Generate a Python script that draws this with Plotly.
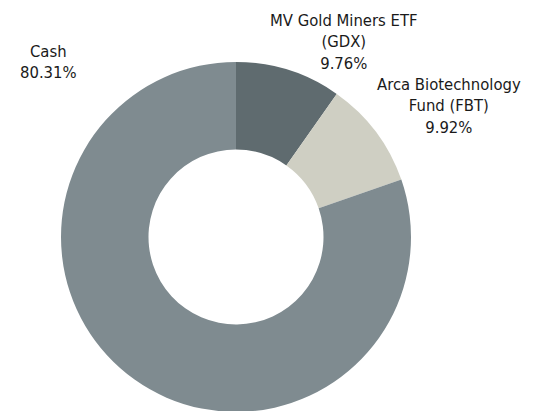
import plotly.graph_objects as go

labels = ["MV Gold Miners ETF<br>(GDX)", "Arca Biotechnology<br>Fund (FBT)", "Cash"]
values = [9.76, 9.92, 80.31]
colors = ["#5f6b6f", "#cfcfc3", "#7f8b90"]

# label anchor positions in pixels (x center, y center) on screen
label_pos = [(344, 42), (449, 106), (48, 62)]
OFF = 8  # default page body margin

W, H = 541, 411
# pie box on screen: x 61..411, y 62..412
fig = go.Figure(go.Pie(
    labels=labels, values=values, hole=0.5, sort=False, direction="clockwise",
    rotation=0, marker=dict(colors=colors, line=dict(width=0)),
    textinfo="none", hoverinfo="label+percent",
    domain=dict(x=[(61 - OFF) / W, (411 - OFF) / W],
                y=[1 - (412 - OFF) / H, 1 - (62 - OFF) / H]),
    showlegend=False,
))

for lab, v, (px, py) in zip(labels, values, label_pos):
    fig.add_annotation(
        x=(px - OFF) / W, y=1 - (py - OFF) / H, xref="paper", yref="paper",
        text=f"{lab}<br>{v:.2f}%", showarrow=False,
        xanchor="center", yanchor="middle", align="center",
        font=dict(family="DejaVu Sans Condensed", size=16.5, color="#1a1a1a"),
    )

fig.update_layout(
    width=W, height=H, margin=dict(l=0, r=0, t=0, b=0),
    paper_bgcolor="white", plot_bgcolor="white",
)
fig.write_html("out.html")
